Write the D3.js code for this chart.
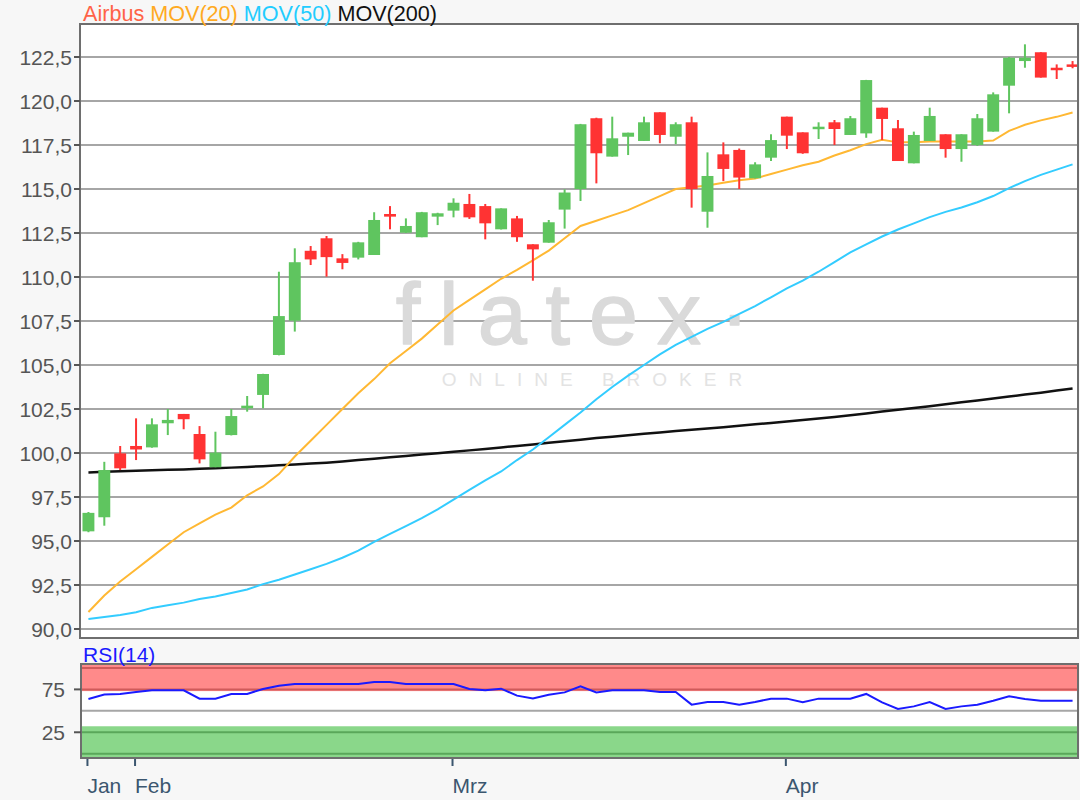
<!DOCTYPE html>
<html>
<head>
<meta charset="utf-8">
<script src="https://cdn.jsdelivr.net/npm/d3@7"></script>
<style>
  html, body { margin: 0; padding: 0; background: #f7f7f7; }
  svg { display: block; font-family: "Liberation Sans", Arial, sans-serif; }
</style>
</head>
<body>
<div id="chart"></div>
<script>
// trading days shown (Xetra, 2019)
const dates = [
  "2019-01-29","2019-01-30","2019-01-31",
  "2019-02-01","2019-02-04","2019-02-05","2019-02-06","2019-02-07","2019-02-08",
  "2019-02-11","2019-02-12","2019-02-13","2019-02-14","2019-02-15",
  "2019-02-18","2019-02-19","2019-02-20","2019-02-21","2019-02-22",
  "2019-02-25","2019-02-26","2019-02-27","2019-02-28",
  "2019-03-01","2019-03-04","2019-03-05","2019-03-06","2019-03-07","2019-03-08",
  "2019-03-11","2019-03-12","2019-03-13","2019-03-14","2019-03-15",
  "2019-03-18","2019-03-19","2019-03-20","2019-03-21","2019-03-22",
  "2019-03-25","2019-03-26","2019-03-27","2019-03-28","2019-03-29",
  "2019-04-01","2019-04-02","2019-04-03","2019-04-04","2019-04-05",
  "2019-04-08","2019-04-09","2019-04-10","2019-04-11","2019-04-12",
  "2019-04-15","2019-04-16","2019-04-17","2019-04-18",
  "2019-04-23","2019-04-24","2019-04-25","2019-04-26","2019-04-29"
];

const open = [95.55,96.35,99.98,100.4,100.32,101.69,102.22,101.08,99.19,101.02,102.54,103.3,105.57,107.52,111.49,112.2,111.06,111.1,111.25,113.58,112.52,112.26,113.43,113.77,114.15,114.03,112.71,113.33,111.86,111.95,113.83,115.0,119.02,116.84,117.97,117.73,119.36,117.97,118.79,113.71,116.97,117.22,115.61,116.78,119.11,118.22,118.41,118.79,118.07,118.16,119.62,118.45,116.46,117.73,118.11,117.27,117.5,118.26,120.87,122.27,122.77,121.89,122.08];
const high = [96.65,99.5,100.4,101.97,101.97,102.5,102.22,101.53,101.21,102.5,103.24,104.5,110.3,111.63,111.76,112.33,111.3,112.0,113.68,114.03,113.33,113.7,113.65,114.47,114.72,114.15,113.9,113.47,111.86,113.24,114.98,118.7,119.05,119.11,118.2,119.11,119.36,118.79,119.11,117.08,117.65,117.3,116.52,118.11,119.11,118.22,118.79,118.92,119.15,121.2,119.62,118.92,118.26,119.62,118.11,118.11,119.26,120.49,122.5,123.22,122.77,122.08,122.27];
const low = [95.5,95.87,99.03,99.6,100.3,101.02,101.35,99.41,99.19,101.0,102.35,102.54,105.55,106.9,110.68,110.02,110.44,111.0,111.25,112.71,112.5,112.26,112.95,113.39,113.3,112.14,112.7,112.0,109.79,111.95,112.75,114.32,115.32,116.84,116.93,117.73,117.6,117.55,113.94,112.8,115.45,115.0,115.6,116.59,117.27,117.0,117.84,117.5,118.07,117.91,117.78,116.59,116.46,117.73,116.78,116.55,117.45,118.26,119.3,121.89,121.33,121.25,121.86];
const close = [96.6,99.03,99.13,100.2,101.63,101.88,101.92,99.64,100.02,102.1,102.69,104.49,107.78,110.84,111.0,111.13,110.8,111.97,113.24,113.43,112.9,113.68,113.62,114.22,113.39,113.05,113.9,112.26,111.57,113.11,114.8,118.68,117.03,117.88,118.2,118.79,118.07,118.68,115.0,115.74,116.14,115.65,116.4,117.78,118.03,117.03,118.54,118.41,119.02,121.19,118.98,116.59,118.07,119.15,117.27,118.11,119.02,120.38,122.46,122.46,121.33,121.76,121.99];

const mov20 = [90.97,91.9,92.7,93.4,94.1,94.8,95.5,96.0,96.5,96.9,97.6,98.1,98.8,99.8,100.7,101.6,102.5,103.4,104.2,105.1,105.8,106.5,107.3,108.1,108.7,109.3,109.9,110.4,110.95,111.5,112.2,112.9,113.2,113.5,113.8,114.2,114.6,115.0,115.1,115.2,115.35,115.5,115.6,115.85,116.1,116.35,116.55,116.9,117.2,117.55,117.8,117.65,117.65,117.7,117.7,117.7,117.7,117.75,118.3,118.65,118.9,119.1,119.35];
const mov50 = [90.57,90.68,90.8,90.95,91.2,91.35,91.5,91.7,91.85,92.05,92.25,92.55,92.8,93.1,93.4,93.7,94.05,94.45,94.95,95.4,95.85,96.3,96.8,97.35,97.9,98.45,98.95,99.6,100.2,100.9,101.6,102.3,103.05,103.75,104.4,105.0,105.6,106.15,106.6,107.05,107.45,107.9,108.35,108.85,109.35,109.8,110.3,110.85,111.4,111.85,112.3,112.7,113.05,113.4,113.7,113.95,114.25,114.6,115.05,115.45,115.8,116.1,116.4];
const mov200 = [98.9,98.93,98.96,98.99,99.02,99.05,99.07,99.1,99.13,99.17,99.21,99.25,99.3,99.35,99.4,99.45,99.52,99.6,99.68,99.76,99.83,99.91,99.99,100.07,100.15,100.23,100.32,100.4,100.49,100.58,100.67,100.76,100.85,100.93,101.01,101.09,101.17,101.25,101.32,101.39,101.47,101.55,101.63,101.71,101.79,101.87,101.96,102.05,102.15,102.25,102.36,102.46,102.56,102.66,102.77,102.88,102.99,103.1,103.21,103.32,103.43,103.55,103.66];
const rsi14 = [63.8,69,69.7,72,73.9,73.9,73.9,64.2,64.2,69.7,69.7,75.5,79.3,81.3,81.3,81.3,81.3,81.3,83.7,83.7,81.3,81.3,81.3,81.3,75.5,73.9,75.8,67.7,64.5,68.8,71.5,78.5,71.5,73.9,73.9,73.9,72,72,57.2,60.3,60.3,57.2,60.3,64.2,64.2,59.9,64.2,64.2,64.2,69.7,59.9,52.2,55.2,60.3,52.2,55.2,57.2,61.8,66.9,63.8,61.8,61.8,61.8];

const priceTicks = [90, 92.5, 95, 97.5, 100, 102.5, 105, 107.5, 110, 112.5, 115, 117.5, 120, 122.5];
const rsiTicks = [25, 75];
const rsiGrid = [0, 25, 50, 75, 100];
const monthTickDates = ["2019-01-29", "2019-02-01", "2019-03-01", "2019-04-01"];
const monthTickLabels = ["Jan", "Feb", "Mrz", "Apr"];

const width = 1080, height = 800;
const main = {left: 80, right: 1078, top: 24, bottom: 638};
const lower = {left: 81, right: 1078, top: 664, bottom: 758};

const svg = d3.select("#chart").append("svg").attr("width", width).attr("height", height);
svg.append("rect").attr("width", width).attr("height", height).attr("fill", "#f7f7f7");

const x = d3.scaleBand().domain(dates).range([80.5, 1080.5]).paddingInner(0.25).paddingOuter(0.125);
const cx = d => x(d) + x.bandwidth() / 2;
const y = d3.scaleLinear().domain([89.49, 124.375]).range([main.bottom, main.top]);
const yr = d3.scaleLinear().domain([-5, 104.6]).range([lower.bottom, lower.top]);

const fmt = d3.format(".1f");
const deFmt = v => fmt(v).replace(".", ",");

//##### price panel #####
svg.append("rect").attr("x", main.left).attr("y", main.top)
  .attr("width", main.right - main.left).attr("height", main.bottom - main.top)
  .attr("fill", "#fff");

svg.append("g").selectAll("line").data(priceTicks).enter().append("line")
  .attr("x1", main.left).attr("x2", main.right)
  .attr("y1", d => y(d)).attr("y2", d => y(d))
  .attr("stroke", "#a6a6a6").attr("stroke-width", 2);

// watermark
const wm = svg.append("g").attr("pointer-events", "none");
wm.append("text").attr("x", 582).attr("y", 344).attr("text-anchor", "middle")
  .attr("font-size", 88).attr("letter-spacing", 19)
  .attr("fill", "#dadada").attr("stroke", "#dadada").attr("stroke-width", 1.5)
  .attr("stroke-linejoin", "round")
  .text("flatex\u00b7");
wm.append("text").attr("x", 598).attr("y", 386).attr("text-anchor", "middle")
  .attr("font-size", 19).attr("letter-spacing", 12).attr("fill", "#e3e3e3")
  .text("ONLINE BROKER");

const line = vals => d3.line().x((d, i) => cx(dates[i])).y(d => y(d))(vals);
svg.append("path").attr("d", line(mov200)).attr("fill", "none").attr("stroke", "#111").attr("stroke-width", 2.5);
svg.append("path").attr("d", line(mov50)).attr("fill", "none").attr("stroke", "#33ccff").attr("stroke-width", 2);
svg.append("path").attr("d", line(mov20)).attr("fill", "none").attr("stroke", "#ffb833").attr("stroke-width", 2);

const candles = dates.map((d, i) => ({date: d, o: open[i], h: high[i], l: low[i], c: close[i]}));
const up = "#5fc55f", down = "#ff3333";
const cg = svg.append("g").selectAll("g").data(candles).enter().append("g");
cg.append("line")
  .attr("x1", d => cx(d.date)).attr("x2", d => cx(d.date))
  .attr("y1", d => y(d.h)).attr("y2", d => y(d.l))
  .attr("stroke", d => d.c >= d.o ? up : down).attr("stroke-width", 2);
cg.append("rect")
  .attr("x", d => x(d.date)).attr("width", x.bandwidth())
  .attr("y", d => y(Math.max(d.o, d.c)))
  .attr("height", d => Math.max(2.5, Math.abs(y(d.o) - y(d.c))))
  .attr("fill", d => d.c >= d.o ? up : down);

svg.append("rect").attr("x", main.left).attr("y", main.top)
  .attr("width", main.right - main.left).attr("height", main.bottom - main.top)
  .attr("fill", "none").attr("stroke", "#6e6e6e").attr("stroke-width", 2);

const yAxis = svg.append("g");
yAxis.selectAll("line").data(priceTicks).enter().append("line")
  .attr("x1", main.left - 6).attr("x2", main.left)
  .attr("y1", d => y(d)).attr("y2", d => y(d))
  .attr("stroke", "#555").attr("stroke-width", 2);
yAxis.selectAll("text").data(priceTicks).enter().append("text")
  .attr("x", main.left - 8).attr("y", d => y(d)).attr("dy", "0.36em")
  .attr("text-anchor", "end").attr("font-size", 21).attr("fill", "#555")
  .text(deFmt);

const legend = svg.append("text").attr("x", 83).attr("y", 21).attr("font-size", 21.6);
legend.append("tspan").attr("fill", "#ff6347").text("Airbus ");
legend.append("tspan").attr("fill", "#ffaa22").text("MOV(20) ");
legend.append("tspan").attr("fill", "#22ccff").text("MOV(50) ");
legend.append("tspan").attr("fill", "#111").text("MOV(200)");

//##### RSI panel #####
svg.append("rect").attr("x", lower.left).attr("y", lower.top)
  .attr("width", lower.right - lower.left).attr("height", lower.bottom - lower.top)
  .attr("fill", "#fff");
svg.append("g").selectAll("line").data(rsiGrid).enter().append("line")
  .attr("x1", lower.left).attr("x2", lower.right)
  .attr("y1", d => yr(d)).attr("y2", d => yr(d))
  .attr("stroke", "#a6a6a6").attr("stroke-width", 2);
svg.append("rect").attr("x", lower.left).attr("width", lower.right - lower.left)
  .attr("y", yr(104.6)).attr("height", yr(73) - yr(104.6))
  .attr("fill", "#ff0000").attr("fill-opacity", 0.46);
svg.append("rect").attr("x", lower.left).attr("width", lower.right - lower.left)
  .attr("y", yr(32)).attr("height", yr(-5) - yr(32))
  .attr("fill", "#00a700").attr("fill-opacity", 0.46);

svg.append("path")
  .attr("d", d3.line().x((d, i) => cx(dates[i])).y(d => yr(d))(rsi14))
  .attr("fill", "none").attr("stroke", "#1a1aff").attr("stroke-width", 2);

svg.append("rect").attr("x", lower.left).attr("y", lower.top)
  .attr("width", lower.right - lower.left).attr("height", lower.bottom - lower.top)
  .attr("fill", "none").attr("stroke", "#6e6e6e").attr("stroke-width", 2);

svg.append("text").attr("x", 83).attr("y", 662).attr("font-size", 21)
  .attr("fill", "#1a1aff").text("RSI(14)");

const rAxis = svg.append("g");
rAxis.selectAll("line").data(rsiTicks).enter().append("line")
  .attr("x1", lower.left - 7).attr("x2", lower.left)
  .attr("y1", d => yr(d)).attr("y2", d => yr(d))
  .attr("stroke", "#555").attr("stroke-width", 2);
rAxis.selectAll("text").data(rsiTicks).enter().append("text")
  .attr("x", lower.left - 16).attr("y", d => yr(d)).attr("dy", "0.36em")
  .attr("text-anchor", "end").attr("font-size", 21).attr("fill", "#555")
  .text(d => d);

// month axis
const xAxis = svg.append("g");
xAxis.selectAll("line").data(monthTickDates).enter().append("line")
  .attr("x1", d => cx(d) - 1).attr("x2", d => cx(d) - 1)
  .attr("y1", lower.bottom + 1).attr("y2", lower.bottom + 8)
  .attr("stroke", "#3b566f").attr("stroke-width", 2);
xAxis.selectAll("text").data(monthTickDates).enter().append("text")
  .attr("x", d => cx(d) - 1).attr("y", 793)
  .attr("font-size", 21).attr("fill", "#3b566f")
  .text((d, i) => monthTickLabels[i]);
</script>
</body>
</html>
